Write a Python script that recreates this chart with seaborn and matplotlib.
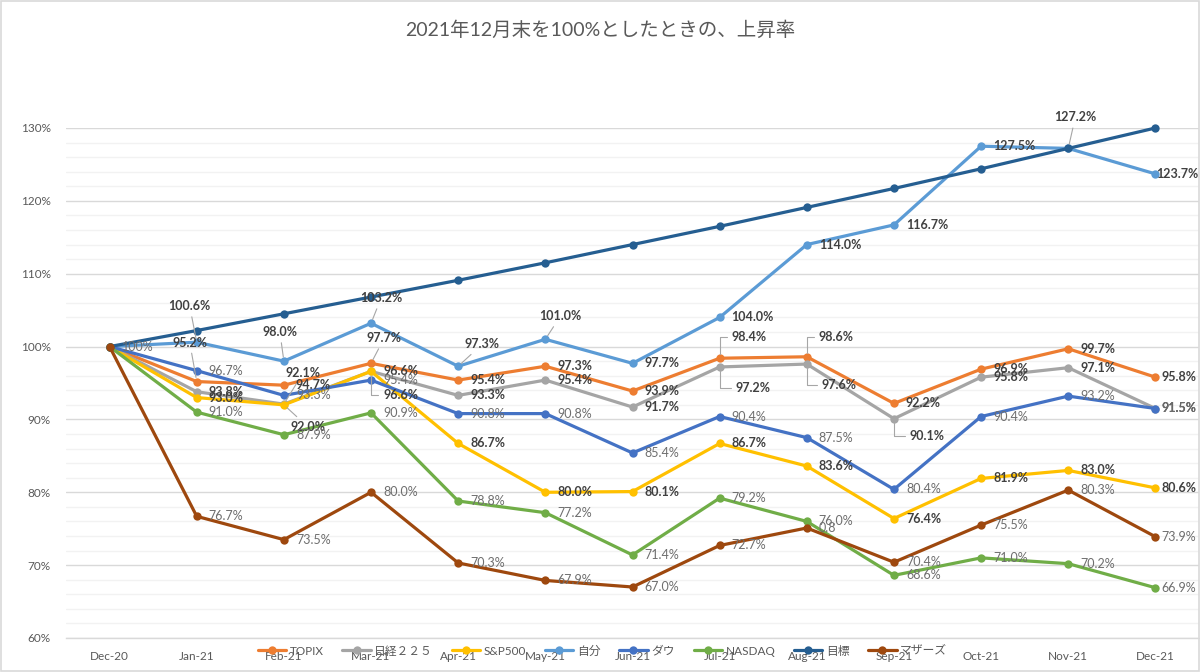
import numpy as np
import pandas as pd
import matplotlib
matplotlib.use("Agg")
import matplotlib.pyplot as plt
import seaborn as sns
from matplotlib.lines import Line2D
from matplotlib.patches import Rectangle
from matplotlib.ticker import MultipleLocator, FixedLocator, FuncFormatter

# ---------------- data ----------------
months = ["Dec-20", "Jan-21", "Feb-21", "Mar-21", "Apr-21", "May-21", "Jun-21",
          "Jul-21", "Aug-21", "Sep-21", "Oct-21", "Nov-21", "Dec-21"]

topix   = [100, 95.2, 94.7, 97.7, 95.4, 97.3, 93.9, 98.4, 98.6, 92.2, 96.9, 99.7, 95.8]
nikkei  = [100, 93.8, 92.1, 96.6, 93.3, 95.4, 91.7, 97.2, 97.6, 90.1, 95.8, 97.1, 91.5]
sp500   = [100, 93.0, 92.0, 96.6, 86.7, 80.0, 80.1, 86.7, 83.6, 76.4, 81.9, 83.0, 80.6]
jibun   = [100, 100.6, 98.0, 103.2, 97.3, 101.0, 97.7, 104.0, 114.0, 116.7, 127.5, 127.2, 123.7]
dow     = [100, 96.7, 93.3, 95.4, 90.8, 90.8, 85.4, 90.4, 87.5, 80.4, 90.4, 93.2, 91.5]
nasdaq  = [100, 91.0, 87.9, 90.9, 78.8, 77.2, 71.4, 79.2, 76.0, 68.6, 71.0, 70.2, 66.9]
mokuhyo = [100, 102.2, 104.5, 106.8, 109.1, 111.5, 114.0, 116.5, 119.1, 121.7, 124.4, 127.2, 130.0]
mothers = [100, 76.7, 73.5, 80.0, 70.3, 67.9, 67.0, 72.7, 75.1, 70.4, 75.5, 80.3, 73.9]

series_names = ["TOPIX", "日経２２５", "S&P500", "自分", "ダウ", "NASDAQ", "目標", "マザーズ"]
series_values = [topix, nikkei, sp500, jibun, dow, nasdaq, mokuhyo, mothers]
colors = ["#ED7D31", "#A5A5A5", "#FFC000", "#5B9BD5", "#4472C4", "#70AD47", "#255E91", "#9E480E"]

title = "2021年12月末を100%としたときの、上昇率"

# label text overrides (as displayed in the original)
label_text_override = {("マザーズ", 0): "100%", ("マザーズ", 8): "0.8"}
no_labels = {"目標"}
bold_series = {"TOPIX", "日経２２５", "S&P500", "自分"}

# ---------------- style ----------------
sns.set_theme(style="white")
plt.rcParams["font.family"] = ["Lato", "Noto Sans CJK JP", "DejaVu Sans"]

rows = []
for name, vals in zip(series_names, series_values):
    for i, v in enumerate(vals):
        rows.append({"idx": i, "month": months[i], "value": v, "series": name})
df = pd.DataFrame(rows)

fig = plt.figure(figsize=(12, 6.72), dpi=100)
ax = fig.add_axes([66 / 1200, 34 / 672, 1133 / 1200, 510 / 672])

ax.set_axisbelow(True)
ax.yaxis.set_major_locator(MultipleLocator(10))
ax.yaxis.set_minor_locator(MultipleLocator(2))
ax.grid(True, axis="y", which="major", color="#D9D9D9", lw=1.0)
ax.grid(True, axis="y", which="minor", color="#F2F2F2", lw=1.0)
ax.grid(False, axis="x")

sns.lineplot(data=df, x="idx", y="value", hue="series", hue_order=series_names,
             palette=dict(zip(series_names, colors)), marker="o", markersize=6,
             markeredgewidth=0, linewidth=2.3, legend=False, sort=False, ax=ax)
for ln in ax.lines:
    ln.set_clip_on(False)

ax.set_xlim(-0.5, len(months) - 0.5)
ax.set_ylim(60, 130)
ax.set_xlabel("")
ax.set_ylabel("")
ax.set_xticks(range(len(months)))
ax.set_xticklabels(months)
ax.xaxis.set_minor_locator(FixedLocator(np.arange(0.5, len(months) - 1, 1.0)))
ax.tick_params(axis="x", which="major", length=0, pad=9, labelsize=8.5, labelcolor="#595959")
ax.tick_params(axis="x", which="minor", length=4, width=1, color="#D9D9D9", direction="out")
ax.yaxis.set_major_formatter(FuncFormatter(lambda v, p: f"{v:.0f}%"))
ax.tick_params(axis="y", which="both", length=0, pad=11, labelsize=8.5, labelcolor="#595959")
for s in ["left", "right", "top"]:
    ax.spines[s].set_visible(False)
ax.spines["bottom"].set_color("#D9D9D9")
ax.spines["bottom"].set_linewidth(1.0)

# ---------------- data labels ----------------
# placement overrides: (dx px, dy px, kind) ; 'c' centred straight leader, 'e' elbow leader
placement = {
    ("自分", 1): (-7, 36, "c"),
    ("TOPIX", 1): (-7, 39, "c"),
    ("自分", 2): (-4, 29, "c"),
    ("日経２２５", 2): (19, 31, "c"),
    ("S&P500", 2): (24, -22, "c"),
    ("自分", 3): (10, 25, "c"),
    ("TOPIX", 3): (13, 25, "c"),
    ("S&P500", 3): (12, -24, "e"),
    ("自分", 4): (24, 22, "c"),
    ("自分", 5): (15, 23, "c"),
    ("TOPIX", 7): (12, 21, "e"),
    ("日経２２５", 7): (16, -21, "e"),
    ("TOPIX", 8): (12, 20, "e"),
    ("日経２２５", 8): (15, -21, "e"),
    ("日経２２５", 9): (16, -17, "e"),
    ("自分", 11): (7, 31, "c"),
    ("自分", 12): (1, 0, None),
}
last = len(months) - 1

for name, vals in zip(series_names, series_values):
    if name in no_labels:
        continue
    weight = "bold" if name in bold_series else "normal"
    tcolor = "#404040" if name in bold_series else "#6E6E6E"
    for i, v in enumerate(vals):
        if i == 0 and (name, 0) not in label_text_override:
            continue
        txt = label_text_override.get((name, i), f"{v:.1f}%")
        default = (6, 0, None) if i == last else (12, 0, None)
        dx, dy, kind = placement.get((name, i), default)
        kw = dict(xy=(i, v), xytext=(dx, dy), textcoords="offset pixels",
                  fontsize=9, fontweight=weight, color=tcolor, va="center", zorder=10)
        if kind == "c":
            ax.annotate(txt, ha="center",
                        arrowprops=dict(arrowstyle="-", color="#A6A6A6", lw=0.8,
                                        shrinkA=1, shrinkB=3), **kw)
        elif kind == "e":
            ax.annotate(txt, ha="left",
                        arrowprops=dict(arrowstyle="-", color="#A6A6A6", lw=0.8,
                                        shrinkA=1, shrinkB=3, relpos=(0, 0.5),
                                        connectionstyle="angle,angleA=180,angleB=90,rad=0"),
                        **kw)
        else:
            ax.annotate(txt, ha="left", **kw)

# ---------------- legend ----------------
handles = [Line2D([0], [0], color=c, lw=2.3, marker="o", markersize=6, markeredgewidth=0)
           for c in colors]
leg = fig.legend(handles, series_names, loc="center", bbox_to_anchor=(0.502, 21 / 672),
                 ncol=8, frameon=False, fontsize=8.5, handlelength=2.4, handletextpad=0.3,
                 columnspacing=1.6, labelcolor="#595959")

# ---------------- title & border ----------------
fig.text(0.5, 1 - 30 / 672, title, ha="center", va="center", fontsize=14, color="#595959")
fig.patches.append(Rectangle((0.001, 0.001), 0.998, 0.997, transform=fig.transFigure,
                             fill=False, edgecolor="#D9D9D9", lw=1.2))

fig.savefig("out.png", dpi=100)
